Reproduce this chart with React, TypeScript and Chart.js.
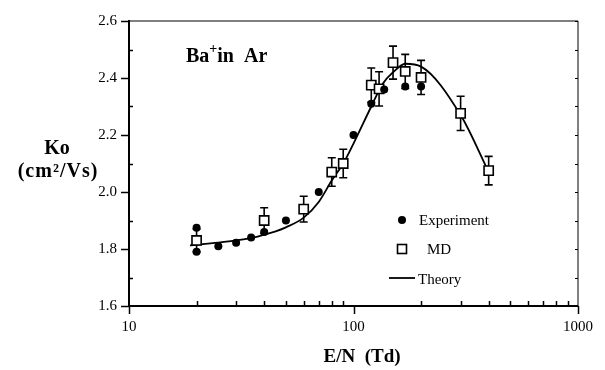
import React, { useEffect, useRef } from "react";
import { Chart, registerables } from "chart.js";

Chart.register(...registerables);

const expX = [20, 20, 25, 30, 35, 40, 50, 70, 100, 120, 137, 170, 200];
const expY = [1.79, 1.875, 1.81, 1.822, 1.84, 1.86, 1.9, 2.0, 2.2, 2.31, 2.36, 2.37, 2.37];

const mdX = [20, 40, 60, 80, 90, 120, 130, 150, 170, 200, 300, 400];
const mdY = [1.83, 1.9, 1.94, 2.07, 2.1, 2.375, 2.362, 2.454, 2.423, 2.402, 2.276, 2.075];
const mdErr = [0.04, 0.045, 0.045, 0.05, 0.05, 0.06, 0.06, 0.058, 0.06, 0.06, 0.06, 0.05];

const thX = [18.7, 25, 30, 35, 40, 45, 50, 60, 70, 80, 90, 100, 120, 135, 150, 170, 200, 300, 400];
const thY = [1.813, 1.822, 1.83, 1.838, 1.85, 1.862, 1.876, 1.91, 1.965, 2.04, 2.1, 2.17, 2.3, 2.38, 2.42, 2.45, 2.44, 2.27, 2.07];

const xTickLabels = [10, 100, 1000];
const yTickLabels = [1.6, 1.8, 2.0, 2.2, 2.4, 2.6];

const title = "Ba";
const titleSup = "+";
const titleRest = "in  Ar";
const yTitle1 = "Ko";
const yTitle2 = "(cm\u00B2/Vs)";
const xTitle = "E/N  (Td)";
const legendLabels = ["Experiment", "MD", "Theory"];

const SERIF = "'Liberation Serif', 'DejaVu Serif', serif";

const decorPlugin = {
  id: "decor",
  beforeDatasetsDraw(chart: any) {
    const { ctx, chartArea: a, scales } = chart;
    const xs = scales.x;
    const ys = scales.y;
    ctx.save();
    ctx.strokeStyle = "#000";
    // frame
    ctx.lineWidth = 1;
    ctx.beginPath();
    ctx.moveTo(a.left, a.top);
    ctx.lineTo(a.right, a.top);
    ctx.lineTo(a.right, a.bottom);
    ctx.stroke();
    ctx.lineWidth = 2;
    ctx.beginPath();
    ctx.moveTo(a.left, a.top - 1);
    ctx.lineTo(a.left, a.bottom);
    ctx.lineTo(a.right, a.bottom);
    ctx.stroke();
    // y ticks
    for (let i = 0; i <= 10; i++) {
      const v = 1.6 + i * 0.1;
      const py = Math.round(ys.getPixelForValue(v)) + 0.5;
      ctx.lineWidth = 1.5;
      ctx.beginPath();
      if (i % 2 === 0) {
        ctx.moveTo(a.left - 8, py);
        ctx.lineTo(a.left, py);
      } else {
        ctx.moveTo(a.left, py);
        ctx.lineTo(a.left + 4, py);
      }
      ctx.stroke();
      ctx.lineWidth = 1;
      ctx.beginPath();
      ctx.moveTo(a.right - 3, py);
      ctx.lineTo(a.right, py);
      ctx.stroke();
    }
    // x ticks
    ctx.lineWidth = 1.5;
    for (let d = 10; d <= 1000; d *= 10) {
      for (let m = 1; m <= 9; m++) {
        const v = d * m;
        if (v > 1000) break;
        const px = Math.round(xs.getPixelForValue(v)) + 0.5;
        ctx.beginPath();
        if (m === 1) {
          ctx.moveTo(px, a.bottom);
          ctx.lineTo(px, a.bottom + 8);
        } else {
          ctx.moveTo(px, a.bottom);
          ctx.lineTo(px, a.bottom - 5);
        }
        ctx.stroke();
      }
    }
    // error bars
    ctx.lineWidth = 1.6;
    for (let i = 0; i < mdX.length; i++) {
      const px = xs.getPixelForValue(mdX[i]);
      const top = ys.getPixelForValue(mdY[i] + mdErr[i]);
      const bot = ys.getPixelForValue(mdY[i] - mdErr[i]);
      ctx.beginPath();
      ctx.moveTo(px, top);
      ctx.lineTo(px, bot);
      ctx.moveTo(px - 4, top);
      ctx.lineTo(px + 4, top);
      ctx.moveTo(px - 4, bot);
      ctx.lineTo(px + 4, bot);
      ctx.stroke();
    }
    ctx.restore();
  },
  afterDraw(chart: any) {
    const { ctx } = chart;
    ctx.save();
    ctx.fillStyle = "#000";
    ctx.strokeStyle = "#000";
    ctx.textBaseline = "middle";
    // title
    ctx.font = `bold 20px ${SERIF}`;
    ctx.textAlign = "left";
    let x = 186;
    const ty = 57;
    ctx.fillText(title, x, ty);
    x += ctx.measureText(title).width;
    ctx.font = `bold 14px ${SERIF}`;
    ctx.fillText(titleSup, x, ty - 8);
    x += ctx.measureText(titleSup).width;
    ctx.font = `bold 20px ${SERIF}`;
    ctx.fillText(titleRest, x, ty);
    // y title
    ctx.textAlign = "center";
    ctx.font = `bold 20px ${SERIF}`;
    ctx.fillText(yTitle1, 57, 149);
    (ctx as any).letterSpacing = "1px";
    ctx.fillText(yTitle2, 58, 172);
    (ctx as any).letterSpacing = "0px";
    // x title
    ctx.font = `bold 19px ${SERIF}`;
    ctx.fillText(xTitle, 362, 357);
    // legend
    ctx.textAlign = "left";
    ctx.font = `15px ${SERIF}`;
    ctx.beginPath();
    ctx.arc(402, 220, 4, 0, Math.PI * 2);
    ctx.fill();
    ctx.fillText(legendLabels[0], 419, 221);
    ctx.lineWidth = 1.6;
    ctx.strokeRect(397.5, 244.5, 9, 9);
    ctx.fillText(legendLabels[1], 427, 250);
    ctx.lineWidth = 1.8;
    ctx.beginPath();
    ctx.moveTo(389, 278);
    ctx.lineTo(415, 278);
    ctx.stroke();
    ctx.fillText(legendLabels[2], 418, 280);
    ctx.restore();
  },
};

export default function App() {
  const ref = useRef<HTMLCanvasElement>(null);
  useEffect(() => {
    if (!ref.current) return;
    const chart = new Chart(ref.current, {
      type: "scatter",
      data: {
        datasets: [
          {
            type: "line",
            label: legendLabels[2],
            data: thX.map((x, i) => ({ x, y: thY[i] })),
            borderColor: "#000",
            borderWidth: 1.8,
            pointRadius: 0,
            cubicInterpolationMode: "monotone",
            fill: false,
            order: 3,
          } as any,
          {
            label: legendLabels[1],
            data: mdX.map((x, i) => ({ x, y: mdY[i] })),
            pointStyle: "rect",
            pointRadius: 6.5,
            borderWidth: 1.6,
            borderColor: "#000",
            backgroundColor: "#fff",
            order: 2,
          },
          {
            label: legendLabels[0],
            data: expX.map((x, i) => ({ x, y: expY[i] })),
            pointStyle: "circle",
            pointRadius: 4,
            borderWidth: 0,
            backgroundColor: "#000",
            order: 1,
          },
        ],
      },
      options: {
        animation: false,
        responsive: true,
        maintainAspectRatio: false,
        layout: { padding: { top: 15, right: 17, left: 0, bottom: 0 } },
        plugins: { legend: { display: false }, tooltip: { enabled: false } },
        scales: {
          x: {
            type: "logarithmic",
            min: 10,
            max: 1000,
            grid: { display: false, drawTicks: false },
            border: { display: false },
            afterBuildTicks: (s: any) => {
              s.ticks = xTickLabels.map((v) => ({ value: v }));
            },
            afterFit: (s: any) => {
              s.height = 64;
            },
            ticks: {
              autoSkip: false,
              maxRotation: 0,
              padding: 12,
              color: "#000",
              font: { family: SERIF, size: 15 },
              callback: (v: any) => String(v),
            },
          },
          y: {
            min: 1.6,
            max: 2.6,
            grid: { display: false, drawTicks: false },
            border: { display: false },
            afterBuildTicks: (s: any) => {
              s.ticks = yTickLabels.map((v) => ({ value: v }));
            },
            afterFit: (s: any) => {
              s.width = 129;
            },
            ticks: {
              padding: 12,
              color: "#000",
              font: { family: SERIF, size: 15 },
              callback: (v: any) => Number(v).toFixed(1),
            },
          },
        },
      },
      plugins: [decorPlugin],
    });
    return () => chart.destroy();
  }, []);
  return (
    <div style={{ position: "absolute", left: 0, top: 0, width: 605, height: 370, background: "#fff" }}>
      <canvas ref={ref} />
    </div>
  );
}
